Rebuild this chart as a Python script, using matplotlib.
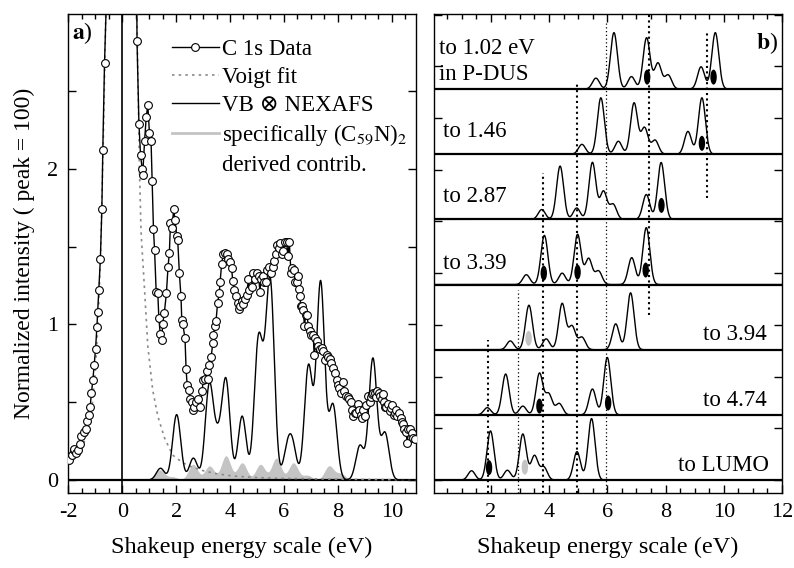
import numpy as np
import matplotlib
matplotlib.use("Agg")
import matplotlib.pyplot as plt
from matplotlib.lines import Line2D
from matplotlib.patches import Ellipse
from matplotlib.ticker import MultipleLocator

plt.rcParams["font.family"] = ["Liberation Serif", "DejaVu Serif"]
plt.rcParams["mathtext.fontset"] = "stix"
plt.rcParams["axes.linewidth"] = 1.0
plt.rcParams["axes.unicode_minus"] = False

# ---------------- panel a data ----------------
# C 1s shakeup data (circles)
c1s_x = [-1.98, -1.88, -1.80, -1.77, -1.71, -1.64, -1.58, -1.52, -1.43, -1.36,
         -1.31, -1.24, -1.19, -1.14, -1.09, -1.04, -0.99, -0.94, -0.91, -0.87,
         -0.81, -0.755, -0.72, -0.656, -0.50,
         0.52, 0.55, 0.62, 0.68, 0.74, 0.76, 0.83, 0.89, 0.95, 1.01,
         1.07, 1.11, 1.16, 1.20, 1.26, 1.32, 1.36, 1.41, 1.47, 1.50,
         1.56, 1.64, 1.70, 1.75, 1.79, 1.85, 1.91, 1.96, 2.02, 2.06,
         2.12, 2.18, 2.21, 2.25, 2.33, 2.37, 2.41, 2.46, 2.52, 2.58,
         2.62, 2.68, 2.74, 2.83, 2.90, 2.96, 3.01, 3.09, 3.13, 3.20,
         3.23, 3.30, 3.36, 3.38, 3.44, 3.48, 3.54, 3.60, 3.63, 3.69,
         3.75, 3.81, 3.87, 3.94, 4.01, 4.06, 4.10, 4.16, 4.22, 4.28,
         4.32, 4.38, 4.43, 4.49, 4.57, 4.62, 4.68, 4.71, 4.80, 4.87,
         4.94, 5.00, 5.06, 5.11, 5.15, 5.21, 5.27, 5.33, 5.39, 5.46,
         5.52, 5.58, 5.64, 5.70, 5.74, 5.80, 5.86, 5.92, 5.98, 6.04,
         6.10, 6.15, 6.20, 6.26, 6.30, 6.36, 6.42, 6.47, 6.52, 6.55,
         6.59, 6.63, 6.67, 6.72, 6.76, 6.81, 6.85, 6.91, 6.96, 7.02,
         7.09, 7.12, 7.16, 7.22, 7.28, 7.34, 7.40, 7.46, 7.53, 7.58,
         7.64, 7.70, 7.76, 7.83, 7.90, 7.96, 7.99, 8.05, 8.12, 8.18,
         8.24, 8.30, 8.36, 8.42, 8.48, 8.54, 8.58, 8.63, 8.68, 8.73,
         8.79, 8.85, 8.90, 8.94, 9.01, 9.06, 9.13, 9.18, 9.22, 9.27,
         9.31, 9.38, 9.43, 9.47, 9.52, 9.56, 9.63, 9.68, 9.71, 9.76,
         9.80, 9.87, 9.92, 9.96, 10.02, 10.07, 10.12, 10.17, 10.21, 10.27,
         10.33, 10.38, 10.42, 10.47, 10.52, 10.58, 10.62, 10.67, 10.74, 10.80,
         10.86]
c1s_y = [0.13, 0.16, 0.19, 0.20, 0.17, 0.19, 0.23, 0.28, 0.31, 0.33,
         0.38, 0.42, 0.47, 0.56, 0.64, 0.74, 0.84, 0.98, 1.08, 1.22,
         1.42, 1.74, 2.12, 2.68, 3.60,
         3.60, 2.82, 2.29, 2.09, 2.00, 1.96, 2.18, 2.33, 2.41, 2.23,
         2.18, 1.92, 1.61, 1.48, 1.21, 1.20, 1.04, 0.94, 0.90, 1.00,
         1.07, 1.20, 1.37, 1.46, 1.65, 1.62, 1.74, 1.67, 1.57, 1.54,
         1.33, 1.18, 1.03, 1.00, 0.91, 0.71, 0.61, 0.58, 0.52, 0.50,
         0.45, 0.47, 0.50, 0.52, 0.47, 0.57, 0.64, 0.65, 0.70, 0.65,
         0.74, 0.79, 0.88, 0.93, 0.99, 1.02, 1.14, 1.20, 1.27, 1.39,
         1.45, 1.46, 1.45, 1.42, 1.40, 1.36, 1.28, 1.22, 1.18, 1.14,
         1.10, 1.12, 1.15, 1.13, 1.16, 1.19, 1.29, 1.22, 1.24, 1.33,
         1.29, 1.33, 1.31, 1.21, 1.29, 1.31, 1.27, 1.27, 1.35, 1.37,
         1.33, 1.37, 1.41, 1.45, 1.51, 1.49, 1.52, 1.45, 1.47, 1.53,
         1.53, 1.44, 1.53, 1.33, 1.36, 1.35, 1.27, 1.27, 1.31, 1.23,
         1.18, 1.12, 1.12, 1.09, 0.99, 1.06, 1.06, 0.99, 0.96, 0.93,
         0.93, 0.80, 0.91, 0.89, 0.86, 0.84, 0.85, 0.83, 0.77, 0.80,
         0.79, 0.78, 0.75, 0.72, 0.69, 0.64, 0.61, 0.59, 0.56, 0.63,
         0.57, 0.54, 0.53, 0.52, 0.50, 0.45, 0.41, 0.43, 0.43, 0.49,
         0.45, 0.42, 0.40, 0.45, 0.41, 0.48, 0.54, 0.50, 0.53, 0.55,
         0.56, 0.56, 0.53, 0.57, 0.56, 0.54, 0.52, 0.55, 0.50, 0.47,
         0.47, 0.49, 0.44, 0.46, 0.48, 0.42, 0.43, 0.45, 0.41, 0.43,
         0.40, 0.37, 0.36, 0.33, 0.31, 0.24, 0.33, 0.33, 0.30, 0.27,
         0.26]

# Voigt fit of the main line (grey dotted)
voigt_x = [-2.0, -1.7, -1.5, -1.3, -1.2, -1.1, -1.0, -0.9, -0.8, -0.7, -0.62, -0.55,
           -0.45, 0.0, 0.45, 0.52, 0.58, 0.64, 0.70, 0.83, 0.95, 1.13, 1.32, 1.57,
           1.87, 2.25, 2.56, 2.99, 3.5, 4.1, 5.0, 6.0, 8.0, 10.9]
voigt_y = [0.10, 0.15, 0.20, 0.30, 0.38, 0.50, 0.70, 1.00, 1.45, 2.20, 2.90, 3.60,
           5.0, 40.0, 5.0, 3.30, 2.60, 2.00, 1.59, 1.22, 0.86, 0.58, 0.41, 0.27,
           0.16, 0.11, 0.085, 0.06, 0.04, 0.025, 0.015, 0.01, 0.005, 0.0]

# VB (x) NEXAFS convolution: stick positions and heights
vb_pos = [1.42, 2.02, 2.64, 3.23, 3.54, 3.85, 4.45, 5.04, 5.27, 5.50, 6.12, 6.32,
          6.91, 7.36, 7.82, 8.82, 9.30, 9.75]
vb_amp = [0.075, 0.42, 0.14, 0.60, 0.22, 0.63, 0.41, 0.82, 0.30, 1.20, 0.17, 0.20,
          0.73, 1.27, 0.48, 0.22, 0.78, 0.30]
vb_sigma = 0.15

# specifically (C59N)2 derived contribution (grey filled)
dimer_pos = [1.40, 1.87, 2.63, 3.24, 3.85, 4.45, 5.13, 5.72, 6.35, 6.87, 7.68, 8.11]
dimer_amp = [0.065, 0.02, 0.10, 0.09, 0.155, 0.11, 0.10, 0.14, 0.11, 0.03, 0.09, 0.04]
dimer_sigma = 0.17

# ---------------- panel b data ----------------
spec_pos = [
    [5.61, 6.23, 6.83, 7.35, 7.74, 8.09, 9.22, 9.71],
    [5.13, 5.78, 6.38, 6.92, 7.28, 7.64, 8.77, 9.25],
    [3.75, 4.38, 4.95, 5.49, 5.87, 6.20, 7.34, 7.85],
    [3.22, 3.84, 4.45, 4.98, 5.36, 5.70, 6.84, 7.34],
    [2.67, 3.31, 3.90, 4.45, 4.79, 5.13, 6.29, 6.80],
    [1.88, 2.51, 3.10, 3.67, 3.99, 4.35, 5.49, 6.00],
    [1.34, 1.99, 2.57, 3.10, 3.50, 3.82, 4.96, 5.46],
]
spec_amp = [
    [0.21, 1.09, 0.24, 0.99, 0.50, 0.27, 0.43, 1.09],
    [0.19, 1.09, 0.25, 0.99, 0.51, 0.27, 0.44, 1.09],
    [0.19, 1.03, 0.22, 1.10, 0.54, 0.29, 0.48, 1.10],
    [0.19, 0.95, 0.22, 0.97, 0.50, 0.26, 0.52, 1.10],
    [0.17, 0.86, 0.21, 0.89, 0.45, 0.24, 0.50, 1.10],
    [0.14, 0.79, 0.17, 0.80, 0.40, 0.22, 0.50, 1.11],
    [0.18, 0.95, 0.19, 0.89, 0.47, 0.25, 0.55, 1.19],
]
spec_sigma = 0.12
spec_step = 1.26
spec_labels = ["to 1.02 eV\nin P-DUS", "to 1.46", "to 2.87", "to 3.39",
               "to 3.94", "to 4.74", "to LUMO"]

# marked states: (spectrum index, energy, height above baseline)
black_marks = [(0, 7.37, 0.23), (0, 9.65, 0.23), (1, 9.25, 0.21), (2, 7.86, 0.27),
               (3, 3.82, 0.22), (3, 4.98, 0.24), (3, 7.32, 0.28),
               (5, 3.67, 0.17), (5, 6.03, 0.23), (6, 1.94, 0.24)]
grey_marks = [(4, 3.30, 0.22), (6, 3.17, 0.25)]

# vertical guide lines: energy, upper end, lower end, thick (True) / thin (False)
guide_x = [7.45, 9.43, 5.97, 4.95, 3.78, 2.93, 1.90]
guide_top = [9.01, 8.65, 8.84, 7.68, 5.94, 3.68, 2.71]
guide_bottom = [3.19, 5.45, -0.25, -0.25, -0.25, -0.25, -0.25]
guide_thick = [True, True, False, True, True, False, True]


def broaden(x, pos, amp, sigma):
    y = np.zeros_like(x)
    for p, a in zip(pos, amp):
        y += a * np.exp(-(x - p) ** 2 / (2 * sigma ** 2))
    return y


fig = plt.figure(figsize=(7.94, 5.68), dpi=100)
W, H = 794.0, 568.0

# ---------------- panel a ----------------
ax = fig.add_axes([68.3 / W, 75 / H, 347.7 / W, 479 / H])
xa = np.linspace(-2.0, 10.9, 3000)
dimer = broaden(xa, dimer_pos, dimer_amp, dimer_sigma)
ax.fill_between(xa, 0, dimer, color="#c4c4c4", lw=0, zorder=1)
ax.axhline(0, color="k", lw=1.6, zorder=2)
ax.axvline(0, color="k", lw=1.2, zorder=2)
ax.plot(voigt_x, voigt_y, color="#8a8a8a", lw=1.2, ls=(0, (1.5, 2.5)), zorder=3)
ax.plot(xa, broaden(xa, vb_pos, vb_amp, vb_sigma), color="k", lw=1.0, zorder=4)
ax.plot(c1s_x, c1s_y, color="k", lw=1.0, marker="o", ms=5.6, mfc="white",
        mec="k", mew=0.8, zorder=5)

ax.set_xlim(-2.0, 10.9)
ax.set_ylim(-0.084, 2.995)
ax.xaxis.set_major_locator(MultipleLocator(2))
ax.xaxis.set_minor_locator(MultipleLocator(0.5))
ax.yaxis.set_major_locator(MultipleLocator(1))
ax.yaxis.set_minor_locator(MultipleLocator(0.5))
ax.tick_params(which="both", direction="in", top=True, right=True, labelsize=16)
ax.tick_params(which="major", length=6, width=1.0, pad=7)
ax.tick_params(axis="x", which="minor", length=3.5, width=1.0)
ax.tick_params(axis="y", which="minor", length=6, width=1.0)
ax.set_xlabel("Shakeup energy scale (eV)", fontsize=17.5, labelpad=11)
ax.set_ylabel("Normalized intensity ( peak = 100)", fontsize=17, labelpad=9)
ax.text(0.012, 0.96, r"$\mathbf{a}$)", transform=ax.transAxes, fontsize=17,
        ha="left", va="center")

handles = [
    Line2D([], [], color="k", lw=1.0, marker="o", ms=5.6, mfc="white", mec="k", mew=0.8),
    Line2D([], [], color="#8a8a8a", lw=1.2, ls=(0, (1.5, 2.5))),
    Line2D([], [], color="k", lw=1.0),
    Line2D([], [], color="#c4c4c4", lw=2.0),
    Line2D([], [], color="none", lw=0),
]
labels = ["C 1s Data", "Voigt fit", "VB \u2297 NEXAFS",
          "specifically (C$_{59}$N)$_2$", "derived contrib."]
ax.legend(handles, labels, loc="upper left", bbox_to_anchor=(0.298, 0.947),
          frameon=False, fontsize=16.5, handlelength=2.05, handletextpad=0.15,
          labelspacing=0.29, borderpad=0, borderaxespad=0)

# ---------------- panel b ----------------
bx = fig.add_axes([434 / W, 75 / H, 348 / W, 479 / H])
xb = np.linspace(0.0, 12.0, 3000)
for i in range(len(spec_pos)):
    base = spec_step * (len(spec_pos) - 1 - i)
    bx.axhline(base, color="k", lw=1.6, zorder=2)
    bx.plot(xb, base + broaden(xb, spec_pos[i], spec_amp[i], spec_sigma),
            color="k", lw=1.0, zorder=3)

for gx, gt, gb, thick in zip(guide_x, guide_top, guide_bottom, guide_thick):
    if thick:
        bx.plot([gx, gx], [gb, gt], color="k", lw=1.5, ls=(0, (1.0, 1.6)), zorder=4)
    else:
        bx.plot([gx, gx], [gb, gt], color="k", lw=0.9, ls=(0, (1, 2)), zorder=4)

for marks, col in ((black_marks, "k"), (grey_marks, "#c4c4c4")):
    for i, ex, ey in marks:
        base = spec_step * (len(spec_pos) - 1 - i)
        bx.add_patch(Ellipse((ex, base + ey), 0.22, 0.29, facecolor=col,
                             edgecolor="none", zorder=5))

label_pos = [(0.014, 0.927, "left"), (0.026, 0.754, "left"), (0.026, 0.619, "left"),
             (0.026, 0.480, "left"), (0.956, 0.330, "right"), (0.956, 0.194, "right"),
             (0.963, 0.058, "right")]
for txt, (tx, ty, ha) in zip(spec_labels, label_pos):
    if "\n" in txt:
        first, second = txt.split("\n")
        bx.text(tx, ty, first, transform=bx.transAxes, fontsize=16.5, ha=ha, va="center")
        bx.text(tx, ty - 0.053, second, transform=bx.transAxes, fontsize=16.5,
                ha=ha, va="center")
    else:
        bx.text(tx, ty, txt, transform=bx.transAxes, fontsize=16.5, ha=ha, va="center")
bx.text(0.988, 0.939, r"$\mathbf{b}$)", transform=bx.transAxes, fontsize=17,
        ha="right", va="center")

bx.set_xlim(0.05, 12.0)
bx.set_ylim(-0.25, 9.01)
bx.xaxis.set_major_locator(MultipleLocator(2))
bx.xaxis.set_minor_locator(MultipleLocator(0.5))
bx.yaxis.set_major_locator(MultipleLocator(1))
bx.tick_params(which="both", direction="in", top=True, right=True, labelsize=16,
               labelleft=False)
bx.tick_params(which="major", length=6, width=1.0, pad=7)
bx.tick_params(which="minor", length=3.5, width=1.0)
bx.set_xlabel("Shakeup energy scale (eV)", fontsize=17.5, labelpad=11)

fig.savefig("out.png", dpi=100)
